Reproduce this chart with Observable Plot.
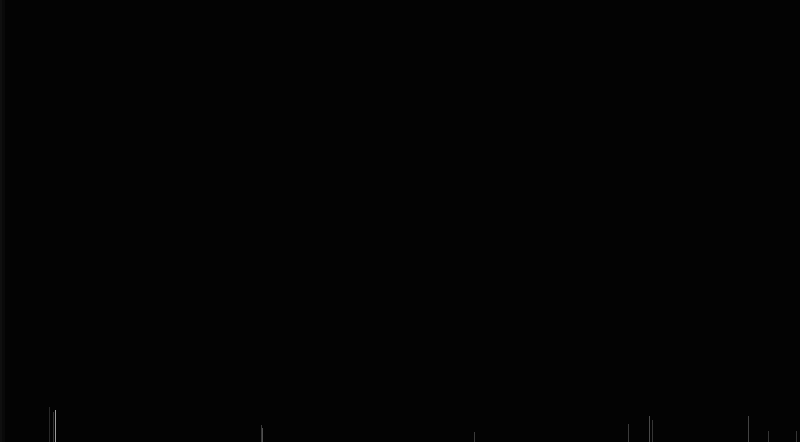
<!DOCTYPE html>
<html>
<head>
<meta charset="utf-8">
<script src="https://cdn.jsdelivr.net/npm/d3@7"></script>
<script src="https://cdn.jsdelivr.net/npm/@observablehq/plot@0.6"></script>
<style>
  html, body { margin: 0; padding: 0; background: #030303; overflow: hidden; }
  #chart { width: 800px; height: 442px; }
  #chart svg { display: block; background: #030303; }
</style>
</head>
<body>
<div id="chart"></div>
<script>
// Spike positions (index along x) and their magnitudes
const positions = [49, 53, 55, 261, 262, 474, 628, 649, 652, 748, 768, 796];
const magnitudes = [35, 30, 32, 17, 14, 10, 18, 26, 22, 26, 11, 11];
const brightness = [0.15, 0.2, 0.6, 0.22, 0.3, 0.22, 0.22, 0.28, 0.2, 0.25, 0.2, 0.2];

const data = positions.map((p, i) => ({ x: p, y: magnitudes[i], o: brightness[i] }));

const chart = Plot.plot({
  width: 800,
  height: 442,
  margin: 0,
  style: { background: "#030303" },
  x: { domain: [0, 800], axis: null },
  y: { domain: [0, 442], axis: null },
  marks: [
    Plot.rectX([0], { x1: 0, x2: 2, y1: 0, y2: 442, fill: "#0f0f0f" }),
    Plot.rectX([0], { x1: 2, x2: 5, y1: 0, y2: 442, fill: "#090909" }),
    Plot.ruleX(data, { x: "x", y1: 0, y2: "y", stroke: "#ffffff", strokeOpacity: "o", strokeWidth: 1 })
  ]
});
document.getElementById("chart").append(chart);
</script>
</body>
</html>
